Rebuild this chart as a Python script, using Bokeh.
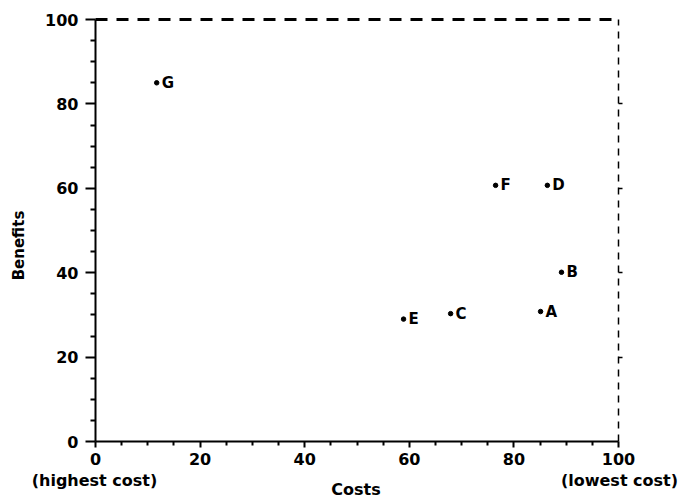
import math
from bokeh.plotting import figure
from bokeh.models import Range1d, LinearAxis, Label, ColumnDataSource, FixedTicker
from bokeh.embed import file_html
from bokeh.resources import INLINE
from bokeh.core.properties import value

# ---- data ----
names = ["A", "B", "C", "D", "E", "F", "G"]
costs = [85.1, 89.1, 67.9, 86.4, 58.9, 76.5, 11.7]
benefits = [30.8, 40.1, 30.3, 60.7, 29.0, 60.7, 85.0]
major_ticks = [0, 20, 40, 60, 80, 100]
minor_ticks = [5, 10, 15, 25, 30, 35, 45, 50, 55, 65, 70, 75, 85, 90, 95]
right_ticks = [20, 40, 60, 80]
x_title = "Costs"
y_title = "Benefits"
end_labels = ["(highest cost)", "(lowest cost)"]
end_positions = [0, 100]
axis_min, axis_max = 0, 100

# ---- layout (pixels) ----
W, H = 678, 499
FRAME_L, FRAME_T, PLOT_W, PLOT_H = 95, 19, 523, 422
FONT = "DejaVu Sans"

sx = PLOT_W / (axis_max - axis_min)
sy = PLOT_H / (axis_max - axis_min)
x_range = Range1d(axis_min - FRAME_L / sx, axis_min + (W - FRAME_L) / sx)
y_range = Range1d(axis_max - (H - FRAME_T) / sy, axis_max + FRAME_T / sy)

p = figure(width=W, height=H, output_backend="svg", toolbar_location=None,
           x_range=x_range, y_range=y_range,
           x_axis_type=None, y_axis_type=None, min_border=0)
p.outline_line_color = None
p.background_fill_color = "white"
p.border_fill_color = "white"


def style_main(ax, tick_out, minor_out):
    ax.bounds = (axis_min, axis_max)
    ax.axis_line_width = 2
    ax.axis_line_color = "black"
    ax.major_tick_out = tick_out
    ax.major_tick_in = 0
    ax.minor_tick_out = minor_out
    ax.minor_tick_in = 0
    ax.major_tick_line_width = 2
    ax.minor_tick_line_width = 2
    ax.major_label_text_font = FONT
    ax.major_label_text_font_style = "bold"
    ax.major_label_text_font_size = "16px"
    ax.major_label_text_color = "black"


left = LinearAxis(ticker=FixedTicker(ticks=major_ticks, minor_ticks=minor_ticks),
                  fixed_location=axis_min)
style_main(left, 10, 5)
left.major_label_standoff = 7
p.add_layout(left, "left")

bottom = LinearAxis(ticker=FixedTicker(ticks=major_ticks, minor_ticks=minor_ticks),
                    fixed_location=axis_min)
style_main(bottom, 6, 4)
bottom.major_label_standoff = 5
p.add_layout(bottom, "below")

right = LinearAxis(ticker=FixedTicker(ticks=right_ticks), fixed_location=axis_max)
right.bounds = (axis_min, axis_max)
right.axis_line_dash = "7 6"
right.axis_line_width = 1.5
right.major_tick_out = 4
right.major_tick_in = 0
right.major_tick_line_width = 1.5
right.minor_tick_out = 0
right.major_label_overrides = {t: "" for t in right_ticks}
right.major_label_standoff = 0
p.add_layout(right, "right")

top = LinearAxis(ticker=FixedTicker(ticks=[]), fixed_location=axis_max)
top.bounds = (axis_min, axis_max)
top.axis_line_dash = "12 9"
top.axis_line_width = 3
top.major_tick_out = 0
top.major_tick_line_color = None
top.minor_tick_line_color = None
top.major_label_standoff = 0
p.add_layout(top, "above")

src = ColumnDataSource(dict(x=costs, y=benefits, name=names))
p.scatter("x", "y", source=src, size=4.5, color="black")
p.text("x", "y", text="name", source=src, x_offset=5,
       text_baseline="middle", text_align="left",
       text_font=value(FONT), text_font_style="bold",
       text_font_size="15px", text_color="black")

txt = dict(text_baseline="middle", text_font=FONT, text_font_style="bold",
           text_color="black")
p.add_layout(Label(x=end_positions[0], y=axis_min, text=end_labels[0],
                   x_offset=-1, y_offset=-39, text_align="center",
                   text_font_size="16px", **txt))
p.add_layout(Label(x=end_positions[1], y=axis_min, text=end_labels[1],
                   x_offset=1, y_offset=-39, text_align="center",
                   text_font_size="16px", **txt))
p.add_layout(Label(x=(axis_min + axis_max) / 2, y=axis_min, text=x_title,
                   x_offset=-1, y_offset=-48, text_align="center",
                   text_font_size="16px", **txt))
p.add_layout(Label(x=axis_min, y=(axis_min + axis_max) / 2, text=y_title,
                   x_offset=-76.5, y_offset=-15, angle=math.pi / 2,
                   text_align="center", text_font_size="15px", **txt))

open("out.html", "w").write(file_html(p, INLINE))
